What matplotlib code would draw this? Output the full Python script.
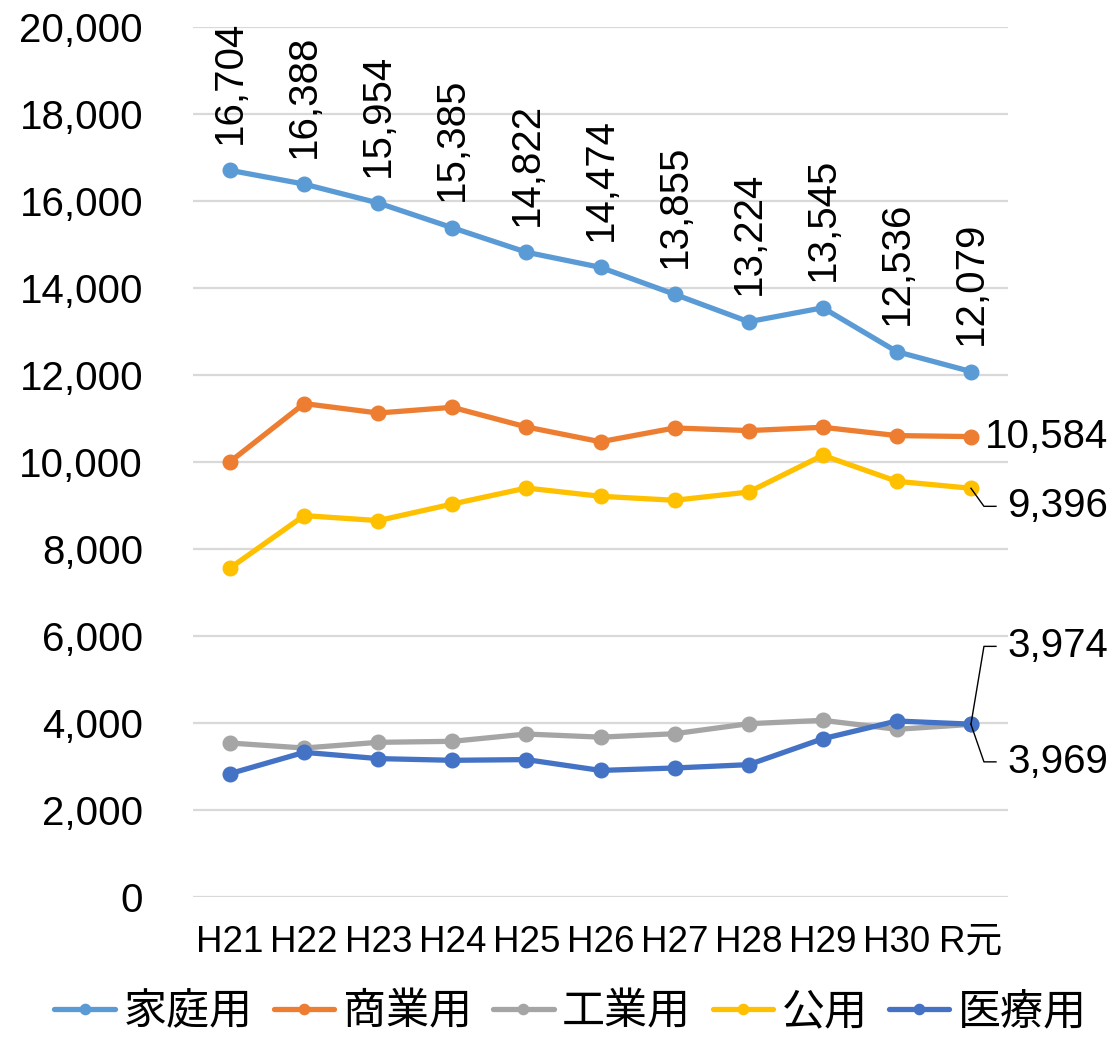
import matplotlib
matplotlib.use("Agg")
import matplotlib.pyplot as plt
from matplotlib import font_manager as fm
from matplotlib.ticker import FuncFormatter

categories = ["H21", "H22", "H23", "H24", "H25", "H26", "H27", "H28", "H29", "H30", "R元"]
katei = [16704, 16388, 15954, 15385, 14822, 14474, 13855, 13224, 13545, 12536, 12079]
shogyo = [10007, 11343, 11126, 11257, 10805, 10465, 10782, 10722, 10798, 10607, 10584]
kogyo = [3540, 3425, 3556, 3579, 3747, 3675, 3754, 3984, 4062, 3855, 3969]
koyo = [7563, 8768, 8653, 9034, 9402, 9212, 9120, 9310, 10154, 9556, 9396]
iryo = [2837, 3326, 3182, 3143, 3159, 2910, 2966, 3043, 3639, 4046, 3974]
series_names = ["家庭用", "商業用", "工業用", "公用", "医療用"]
colors = ["#5B9BD5", "#ED7D31", "#A5A5A5", "#FFC000", "#4472C4"]
yticks = list(range(0, 20001, 2000))

avail = {f.name for f in fm.fontManager.ttflist}
num_font = [f for f in ["Liberation Sans Narrow", "Liberation Sans"] if f in avail]
num_family = num_font + ["Noto Sans CJK JP", "DejaVu Sans"]
jp_family = ["Noto Sans CJK JP", "DejaVu Sans"]
NUM_SIZE = 29

fig = plt.figure(figsize=(11.19, 10.45), dpi=100)
ax = fig.add_axes([0.1725, 0.1416, 0.7283, 0.8326])

x = list(range(len(categories)))
all_series = [katei, shogyo, kogyo, koyo, iryo]
lines = []
for vals, name, c in zip(all_series, series_names, colors):
    ln, = ax.plot(x, vals, color=c, lw=3.8, marker="o", markersize=10.5,
                  label=name, solid_capstyle="round", zorder=3)
    lines.append(ln)

ax.set_xlim(-0.5, len(categories) - 0.5)
ax.set_ylim(0, 20000)
ax.set_yticks(yticks)
ax.yaxis.set_major_formatter(FuncFormatter(lambda v, p: f"{int(v):,}"))
ax.grid(axis="y", color="#D9D9D9", lw=1.6, zorder=0)
ax.set_axisbelow(True)
for s in ax.spines.values():
    s.set_visible(False)
ax.tick_params(axis="both", length=0)
ax.tick_params(axis="y", pad=36)
ax.tick_params(axis="x", pad=20)
ax.set_xticks(x)
ax.set_xticklabels(categories)
for t in ax.get_yticklabels():
    t.set_fontfamily(num_family)
    t.set_fontsize(NUM_SIZE)
for t in ax.get_xticklabels():
    t.set_fontfamily(num_family)
    t.set_fontsize(26.5)

# rotated labels for 家庭用
for xi, v in zip(x, katei):
    ax.annotate(f"{v:,}", (xi, v), xytext=(0, 19), textcoords="offset points",
                rotation=90, ha="center", va="bottom", fontsize=NUM_SIZE,
                family=num_family, zorder=4)

last = len(categories) - 1
# 商業用 label
ax.annotate(f"{shogyo[last]:,}", (last, shogyo[last]), xytext=(10, 0),
            textcoords="offset points", ha="left", va="center",
            fontsize=NUM_SIZE, family=num_family)


def leader(val, dy_pt, label):
    # polyline: point -> knee -> short horizontal -> text
    x0, y0 = ax.transData.transform((last, val))
    ax.annotate(label, (last, val), xytext=(26, dy_pt), textcoords="offset points",
                ha="left", va="center", fontsize=NUM_SIZE, family=num_family,
                annotation_clip=False)
    inv = ax.transData.inverted()
    p_knee = inv.transform((x0 + 13, y0 + dy_pt * 100 / 72))
    p_end = inv.transform((x0 + 25, y0 + dy_pt * 100 / 72))
    ax.plot([last, p_knee[0], p_end[0]], [val, p_knee[1], p_end[1]],
            color="black", lw=1.0, clip_on=False, zorder=5)


fig.canvas.draw()
leader(koyo[last], -13, f"{koyo[last]:,}")
leader(iryo[last], 56, f"{iryo[last]:,}")
leader(kogyo[last], -27, f"{kogyo[last]:,}")

leg = fig.legend(handles=lines, labels=series_names, loc="lower center",
                 bbox_to_anchor=(0.51, -0.027), ncol=5, frameon=False,
                 prop={"family": jp_family, "size": 31},
                 handlelength=1.4, handletextpad=0.2, columnspacing=0.5,
                 markerscale=0.7)

fig.savefig("out.png", dpi=100)
